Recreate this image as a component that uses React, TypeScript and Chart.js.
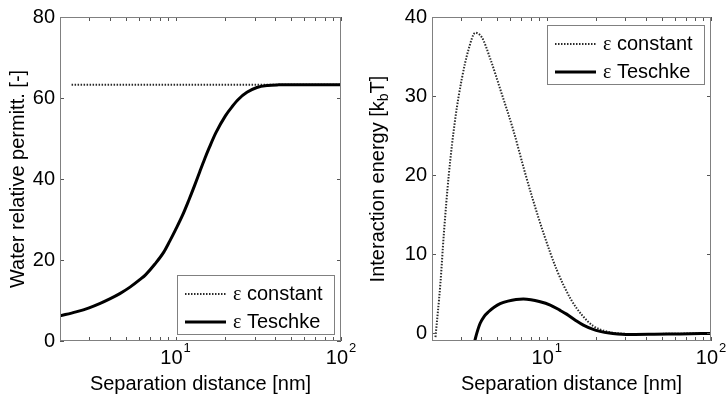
import React, { useEffect, useRef } from 'react';
import { Chart, registerables } from 'chart.js';

Chart.register(...registerables);

const SANS = "'Liberation Sans', Arial, Helvetica, sans-serif";
const SERIF = "'Liberation Serif', 'Times New Roman', serif";

// Shared logarithmic separation axis (nm)
const X_MIN = 2;
const X_MAX = 100;
const X_TICKS = [2, 3, 4, 5, 6, 7, 8, 9, 10, 20, 30, 40, 50, 60, 70, 80, 90, 100];
const X_DECADES = [10, 100];

// Left panel: water relative permittivity
const PERM_TICKS = [0, 20, 40, 60, 80];
const PERM_CONST_X = [2.35, 100];
const PERM_CONST = [63.3, 63.3];
const PERM_TESCHKE_X = [2, 2.5, 3, 3.5, 4, 4.6, 5.3, 6.1, 6.6, 7.5, 8.5, 9.2, 10, 11, 12, 13, 14, 15, 16, 17.5, 20, 22, 24, 27, 31, 36, 42, 55, 100];
const PERM_TESCHKE = [6.2, 7.2, 8.2, 9.3, 10.4, 11.7, 13.3, 15.2, 16.4, 19.0, 22.0, 24.6, 27.5, 31.0, 34.7, 38.3, 41.8, 45.0, 47.8, 51.4, 55.6, 57.9, 59.7, 61.4, 62.6, 63.1, 63.25, 63.3, 63.3];

// Right panel: interaction energy (kbT)
const ENERGY_TICKS = [0, 10, 20, 30, 40];
const ENERGY_CONST_X = [2.1, 2.25, 2.36, 2.53, 2.77, 3.04, 3.34, 3.67, 4.03, 4.53, 5.2, 6.27, 7.3, 8.2, 9.6, 11.5, 14.0, 16.5, 19.2, 23.2, 30.7, 40, 60, 100];
const ENERGY_CONST = [-0.5, 6.3, 12.5, 20.0, 27.1, 32.2, 35.9, 38.0, 37.4, 34.7, 30.9, 25.6, 20.6, 17.0, 12.5, 8.0, 4.3, 2.2, 0.9, 0.2, -0.1, -0.12, -0.08, -0.03];
const ENERGY_TESCHKE_X = [3.62, 3.75, 3.93, 4.15, 4.42, 4.8, 5.2, 5.8, 6.5, 7.2, 8.0, 9.0, 10.5, 12.0, 13.2, 15.0, 16.7, 19.0, 21.1, 24, 27, 33, 45, 65, 100];
const ENERGY_TESCHKE = [-1.2, 0.0, 1.25, 2.1, 2.7, 3.3, 3.72, 4.05, 4.25, 4.3, 4.22, 4.0, 3.55, 2.9, 2.4, 1.6, 1.0, 0.5, 0.22, 0.0, -0.1, -0.18, -0.15, -0.1, -0.05];

const LEGEND_LABELS = ['constant', 'Teschke'];

const CANVAS_W = 363;
const CANVAS_H = 404;
const FRAME = '#808080';
const DOT_COLOR = '#2a2a2a';
const DOT_DASH = [1.5, 1.5];

type PanelSpec = {
  constX: number[];
  constY: number[];
  teschkeX: number[];
  teschkeY: number[];
  yMin: number;
  yMax: number;
  yTicks: number[];
  yAxisWidth: number;
  padRight: number;
  yTitle: string | null;
  legendAtTop: boolean;
};

const toPoints = (xs: number[], ys: number[]) => xs.map((x, i) => ({ x, y: ys[i] }));

function drawLegend(ctx: CanvasRenderingContext2D, left: number, top: number) {
  const w = 158;
  const h = 60;
  ctx.fillStyle = '#fff';
  ctx.fillRect(left, top, w, h);
  ctx.strokeStyle = FRAME;
  ctx.lineWidth = 1;
  ctx.strokeRect(left + 0.5, top + 0.5, w - 1, h - 1);
  const rows = [18.5, 46.5];
  rows.forEach((dy, i) => {
    const y = Math.round(top + dy);
    ctx.save();
    ctx.beginPath();
    if (i === 0) {
      ctx.strokeStyle = DOT_COLOR;
      ctx.lineWidth = 2;
      ctx.setLineDash(DOT_DASH);
    } else {
      ctx.strokeStyle = '#000';
      ctx.lineWidth = 3;
    }
    ctx.moveTo(left + 8, y);
    ctx.lineTo(left + 49, y);
    ctx.stroke();
    ctx.restore();
    ctx.fillStyle = '#000';
    ctx.textBaseline = 'middle';
    ctx.textAlign = 'left';
    ctx.font = `20px ${SERIF}`;
    const tx = left + 56;
    ctx.fillText('\u03b5', tx, y + 1);
    const ew = ctx.measureText('\u03b5').width;
    ctx.font = `20px ${SANS}`;
    ctx.fillText(' ' + LEGEND_LABELS[i], tx + ew, y);
  });
}

function createChart(canvas: HTMLCanvasElement, spec: PanelSpec) {
  const decor = {
    id: 'decor',
    afterDraw(chart: any) {
      const { ctx, chartArea: a, scales } = chart;
      const xs = scales.x;
      const ys = scales.y;
      ctx.save();
      // inward tick marks on all four sides
      ctx.strokeStyle = '#555';
      ctx.lineWidth = 1;
      ctx.beginPath();
      X_TICKS.forEach((v) => {
        const px = Math.round(xs.getPixelForValue(v)) + 0.5;
        ctx.moveTo(px, a.bottom);
        ctx.lineTo(px, a.bottom - 4);
        ctx.moveTo(px, a.top);
        ctx.lineTo(px, a.top + 4);
      });
      spec.yTicks.forEach((v) => {
        const py = Math.round(ys.getPixelForValue(v)) + 0.5;
        ctx.moveTo(a.left, py);
        ctx.lineTo(a.left + 4, py);
        ctx.moveTo(a.right, py);
        ctx.lineTo(a.right - 4, py);
      });
      ctx.stroke();
      // axes box
      ctx.strokeStyle = FRAME;
      ctx.strokeRect(a.left + 0.5, a.top + 0.5, a.right - a.left - 1, a.bottom - a.top - 1);

      // decade labels with superscript exponents
      ctx.fillStyle = '#000';
      ctx.textBaseline = 'middle';
      ctx.textAlign = 'left';
      X_DECADES.forEach((v) => {
        const cx = xs.getPixelForValue(v);
        const exp = String(Math.round(Math.log10(v)));
        ctx.font = `20px ${SANS}`;
        const bw = ctx.measureText('10').width;
        ctx.font = `13px ${SANS}`;
        const ew = ctx.measureText(exp).width;
        const start = cx - (bw + ew + 1) / 2;
        ctx.font = `20px ${SANS}`;
        ctx.fillText('10', start, 358);
        ctx.font = `13px ${SANS}`;
        ctx.fillText(exp, start + bw + 1, 348);
      });

      // y title with subscript for the energy panel
      if (spec.yTitle === null) {
        const cy = (a.top + a.bottom) / 2;
        ctx.save();
        ctx.translate(15, cy);
        ctx.rotate(-Math.PI / 2);
        ctx.font = `20px ${SANS}`;
        const p1 = 'Interaction energy [k';
        const p3 = 'T]';
        const w1 = ctx.measureText(p1).width;
        const w3 = ctx.measureText(p3).width;
        ctx.font = `14px ${SANS}`;
        const w2 = ctx.measureText('b').width;
        let x0 = -(w1 + w2 + w3) / 2;
        ctx.font = `20px ${SANS}`;
        ctx.fillText(p1, x0, 0);
        x0 += w1;
        ctx.font = `14px ${SANS}`;
        ctx.fillText('b', x0, 6);
        x0 += w2;
        ctx.font = `20px ${SANS}`;
        ctx.fillText(p3, x0, 0);
        ctx.restore();
      }

      // legend box inside the axes
      const lw = 158;
      const left = a.right - 6 - lw;
      const top = spec.legendAtTop ? a.top + 8 : a.bottom - 6 - 60;
      drawLegend(ctx, left, top);
      ctx.restore();
    },
  };

  return new Chart(canvas, {
    type: 'line',
    data: {
      datasets: [
        {
          label: 'Teschke',
          data: toPoints(spec.teschkeX, spec.teschkeY),
          borderColor: '#000',
          borderWidth: 3,
          pointRadius: 0,
          cubicInterpolationMode: 'monotone',
          clip: 0,
        },
        {
          label: 'constant',
          data: toPoints(spec.constX, spec.constY),
          borderColor: DOT_COLOR,
          borderWidth: 2,
          borderDash: DOT_DASH,
          pointRadius: 0,
          cubicInterpolationMode: 'monotone',
          clip: 0,
        },
      ],
    },
    options: {
      animation: false,
      responsive: false,
      devicePixelRatio: 1,
      layout: { padding: { top: 14, right: spec.padRight, bottom: 0, left: 0 } },
      plugins: { legend: { display: false }, tooltip: { enabled: false } },
      scales: {
        x: {
          type: 'logarithmic',
          min: X_MIN,
          max: X_MAX,
          afterBuildTicks: (s: any) => {
            s.ticks = X_TICKS.map((value) => ({ value }));
          },
          afterFit: (s: any) => {
            s.height = 63;
          },
          grid: { display: false, drawTicks: false },
          border: { display: false },
          ticks: { display: false },
          title: {
            display: true,
            text: 'Separation distance [nm]',
            color: '#000',
            font: { family: SANS, size: 20 },
            padding: { top: 0, bottom: 8 },
          },
        },
        y: {
          type: 'linear',
          min: spec.yMin,
          max: spec.yMax,
          afterBuildTicks: (s: any) => {
            s.ticks = spec.yTicks.map((value) => ({ value }));
          },
          afterFit: (s: any) => {
            s.width = spec.yAxisWidth;
          },
          grid: { display: false, drawTicks: false },
          border: { display: false },
          ticks: {
            color: '#000',
            padding: 5,
            font: { family: SANS, size: 20 },
            callback: (v: any) => String(v),
          },
          title: {
            display: spec.yTitle !== null,
            text: spec.yTitle ?? '',
            color: '#000',
            font: { family: SANS, size: 20 },
            padding: { top: 6, bottom: 0 },
          },
        },
      },
    },
    plugins: [decor],
  } as any);
}

const LEFT_PANEL: PanelSpec = {
  constX: PERM_CONST_X,
  constY: PERM_CONST,
  teschkeX: PERM_TESCHKE_X,
  teschkeY: PERM_TESCHKE,
  yMin: 0,
  yMax: 80,
  yTicks: PERM_TICKS,
  yAxisWidth: 60,
  padRight: 22,
  yTitle: 'Water relative permitt. [-]',
  legendAtTop: false,
};

const RIGHT_PANEL: PanelSpec = {
  constX: ENERGY_CONST_X,
  constY: ENERGY_CONST,
  teschkeX: ENERGY_TESCHKE_X,
  teschkeY: ENERGY_TESCHKE,
  yMin: -1,
  yMax: 40,
  yTicks: ENERGY_TICKS,
  yAxisWidth: 69,
  padRight: 15,
  yTitle: null,
  legendAtTop: true,
};

function PanelCanvas({ spec, left }: { spec: PanelSpec; left: number }) {
  const ref = useRef<HTMLCanvasElement | null>(null);
  useEffect(() => {
    if (!ref.current) return;
    const chart = createChart(ref.current, spec);
    return () => chart.destroy();
  }, [spec]);
  return (
    <canvas
      ref={ref}
      width={CANVAS_W}
      height={CANVAS_H}
      style={{ position: 'absolute', left, top: 0, width: CANVAS_W, height: CANVAS_H }}
    />
  );
}

export default function App() {
  return (
    <div style={{ position: 'absolute', left: 0, top: 0, width: 726, height: 404, background: '#fff' }}>
      <PanelCanvas spec={LEFT_PANEL} left={0} />
      <PanelCanvas spec={RIGHT_PANEL} left={363} />
    </div>
  );
}
